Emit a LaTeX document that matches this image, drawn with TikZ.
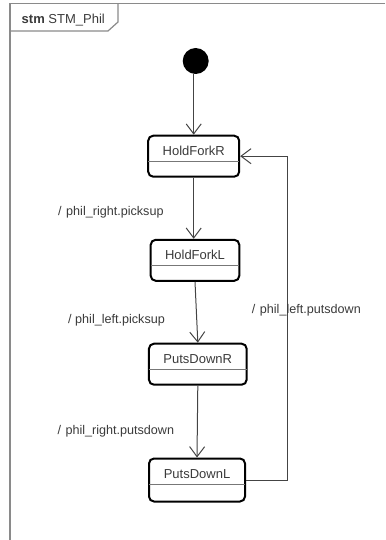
\documentclass[tikz,border=0pt]{standalone}
\usepackage{fontspec}
\setmainfont{Liberation Sans}
\usetikzlibrary{arrows.meta,calc}

\definecolor{txt}{HTML}{3A3A3A}
\definecolor{wire}{HTML}{444444}
\definecolor{framegray}{HTML}{8A8A8A}
\definecolor{sepgray}{HTML}{777777}

\tikzset{
  statebox/.style={draw=black, line width=2pt, rounded corners=5pt,
    inner sep=0pt, minimum height=41pt},
  statename/.style={text=txt, inner sep=0pt, font=\fontsize{13}{15}\selectfont},
  translabel/.style={text=txt, inner sep=0pt, anchor=west, font=\fontsize{12.6}{15}\selectfont},
  arr/.style={draw=wire, line width=1pt,
    -{Straight Barb[length=10pt,width=15pt,line width=1pt]}},
  sepline/.style={draw=sepgray, line width=1pt},
}

\newcommand{\statesep}[1]{%
  \draw[sepline] ($(#1.north west)+(1pt,-27pt)$) -- ($(#1.north east)+(-1pt,-27pt)$);}

\begin{document}
\begin{tikzpicture}[x=1pt,y=-1pt]
  \useasboundingbox (0,0) rectangle (385,540);

  % diagram frame and its name tab
  \draw[framegray, line width=1.5pt] (385,3.5) -- (10,3.5) -- (10,540);
  \draw[framegray, line width=1.2pt] (10,31) -- (108,31) -- (118,22) -- (118,3.5);
  \node[anchor=west, inner sep=0pt, text=txt, font=\fontsize{13}{15}\selectfont]
    (title) at (21.5,20) {\textbf{stm} STM\_Phil};

  % initial pseudostate
  \node[circle, fill=black, minimum size=26pt, inner sep=0pt] (init) at (195.7,61) {};

  % states
  \node[statebox, minimum width=91pt]   (hfr) at (193.7,156.2) {};
  \node[statebox, minimum width=88.6pt] (hfl) at (195,260.3) {};
  \node[statebox, minimum width=97.7pt] (pdr) at (197.8,364.2) {};
  \node[statebox, minimum width=96pt, minimum height=43pt] (pdl) at (197,480) {};

  \node[statename] (hfrname) at ($(hfr.north)+(0,16.5)$) {HoldForkR};
  \node[statename] (hflname) at ($(hfl.north)+(0,16.5)$) {HoldForkL};
  \node[statename] (pdrname) at ($(pdr.north)+(0,16.5)$) {PutsDownR};
  \node[statename] (pdlname) at ($(pdl.north)+(0,16.5)$) {PutsDownL};

  \statesep{hfr}
  \statesep{hfl}
  \statesep{pdr}
  \statesep{pdl}

  % transitions
  \coordinate (loop) at (287.3,300);
  \draw[arr] (init.south -| hfr.north) -- (hfr.north);
  \draw[arr] (hfr.south) -- (hfr.south |- hfl.north);
  \draw[arr] (hfl.south) -- (pdr.north);
  \draw[arr] (pdr.south) -- (pdl.north);
  \draw[arr] (pdl.east) -| (loop) |- (hfr.east);

  % transition labels
  \node[translabel] (l1) at (58,212.7)   {/\hspace{4.5pt}phil\_right.picksup};
  \node[translabel] (l2) at (68,320.7)   {/ phil\_left.picksup};
  \node[translabel] (l3) at (251.7,310.7) {/\hspace{4.5pt}phil\_left.putsdown};
  \node[translabel] (l4) at (57.3,431.7) {/\hspace{4.5pt}phil\_right.putsdown};
\end{tikzpicture}
\end{document}
